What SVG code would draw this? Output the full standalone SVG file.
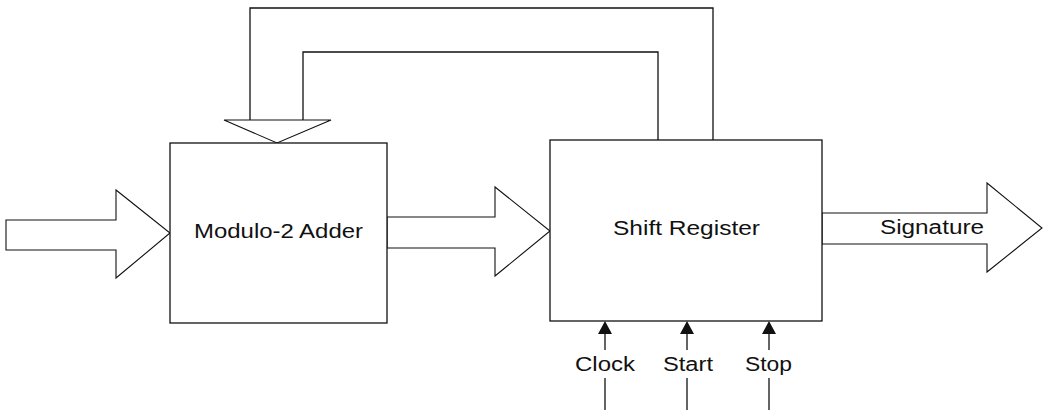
<svg xmlns="http://www.w3.org/2000/svg" width="1045" height="410" viewBox="0 0 1045 410">
<style>
.ln{fill:none;stroke:#111;stroke-width:1.3}
.bx{fill:#fff;stroke:#111;stroke-width:1.3}
.ar{fill:#fff;stroke:#111;stroke-width:1.1;stroke-linejoin:miter}
.t{font-family:"Liberation Sans",Arial,sans-serif;font-size:20px;fill:#111}
.hd{fill:#111;stroke:none}
</style>
<rect width="1045" height="410" fill="#fff"/>
<g id="connectors">
<polyline class="ln" points="713,140 713,8 250,8 250,120"/>
<polyline class="ln" points="658,140 658,52 303,52 303,120"/>
<polygon class="ar" points="250,120 224,120 277,143 331,120 303,120"/>
<polygon class="ar" points="6,220 116,220 116,190 170,233 116,278 116,250 6,250"/>
<polygon class="ar" points="387,217 495,217 495,187 550,231 495,276 495,248 387,248"/>
<polygon class="ar" points="822,213 987,213 987,183 1042,228 987,272 987,244 822,244"/>
<g id="clock-in">
<line class="ln" x1="605" y1="378" x2="605" y2="410"/>
<line class="ln" x1="605" y1="333" x2="605" y2="350"/>
<polygon class="hd" points="605,321 598,334 612,334"/>
</g>
<g id="start-in">
<line class="ln" x1="687" y1="378" x2="687" y2="410"/>
<line class="ln" x1="687" y1="333" x2="687" y2="350"/>
<polygon class="hd" points="687,321 680,334 694,334"/>
</g>
<g id="stop-in">
<line class="ln" x1="769" y1="378" x2="769" y2="410"/>
<line class="ln" x1="769" y1="333" x2="769" y2="350"/>
<polygon class="hd" points="769,321 762,334 776,334"/>
</g>
</g>
<g id="adder">
<rect class="bx" x="170" y="143" width="217" height="180"/>
<text class="t" x="194" y="238" textLength="169" lengthAdjust="spacingAndGlyphs">Modulo-2 Adder</text>
</g>
<g id="shift-register">
<rect class="bx" x="550" y="140" width="272" height="181"/>
<text class="t" x="613" y="235" textLength="147" lengthAdjust="spacingAndGlyphs">Shift Register</text>
</g>
<g id="signature-label">
<text class="t" x="880" y="234" textLength="104" lengthAdjust="spacingAndGlyphs">Signature</text>
</g>
<g id="labels">
<text class="t" x="575" y="371" textLength="60" lengthAdjust="spacingAndGlyphs">Clock</text>
<text class="t" x="663" y="371" textLength="50" lengthAdjust="spacingAndGlyphs">Start</text>
<text class="t" x="745" y="371" textLength="47" lengthAdjust="spacingAndGlyphs">Stop</text>
</g>
</svg>
